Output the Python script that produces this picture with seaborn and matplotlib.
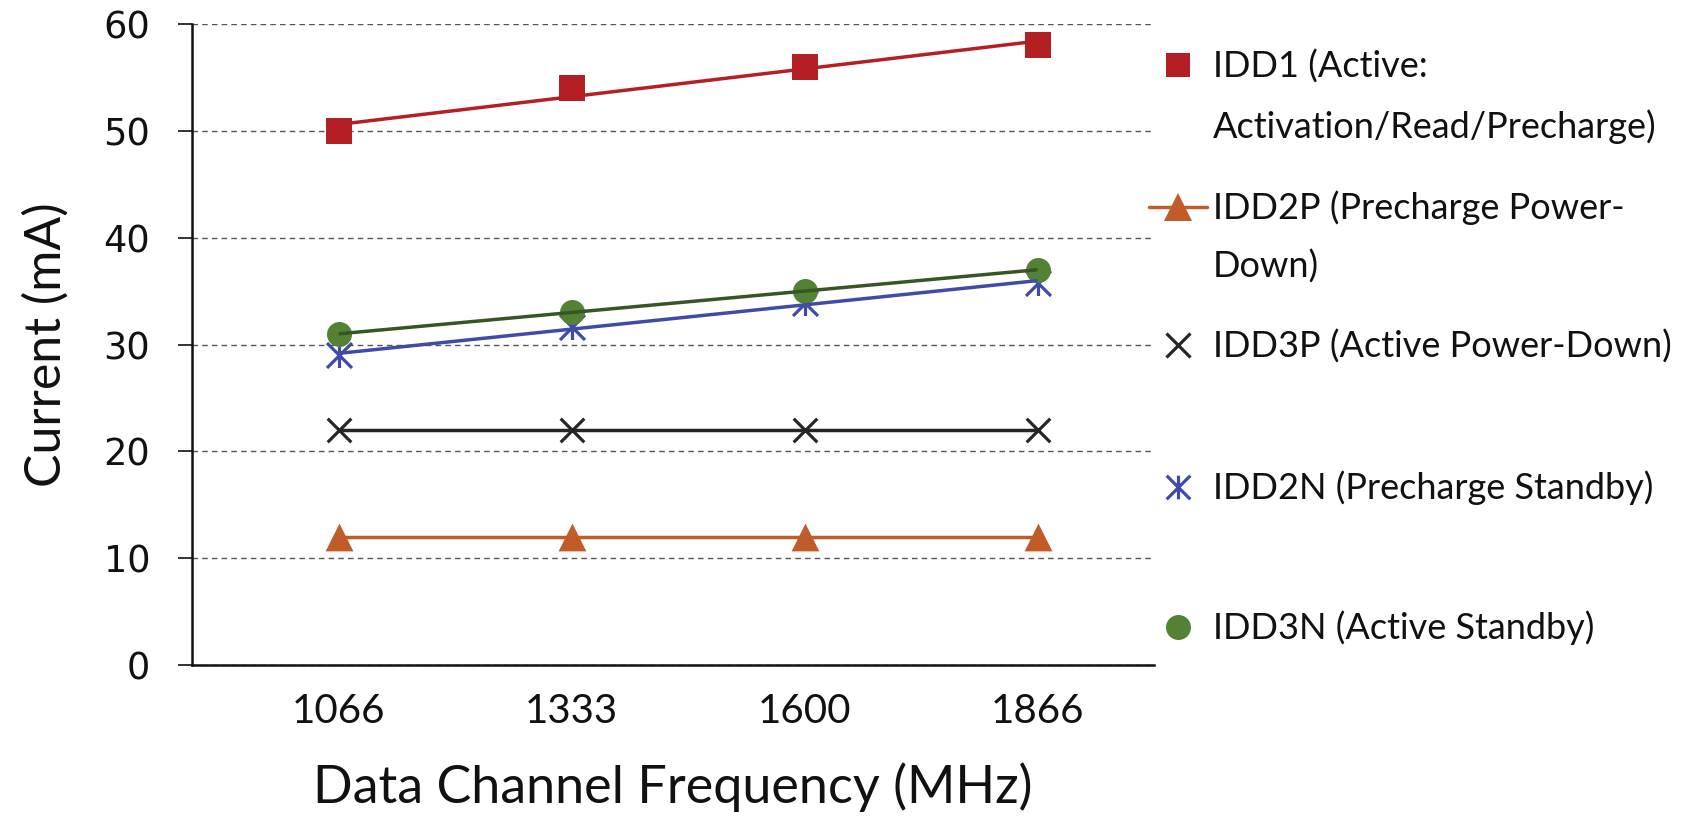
import numpy as np
import matplotlib
matplotlib.use("Agg")
import matplotlib.pyplot as plt
import seaborn as sns
from matplotlib.path import Path
from matplotlib.lines import Line2D

# ---------------- data ----------------
freqs = ["1066", "1333", "1600", "1866"]
idd1 = [50, 54, 56, 58]
idd2p = [12, 12, 12, 12]
idd3p = [22, 22, 22, 22]
idd2n = [29.0, 31.6, 33.9, 35.8]
idd3n = [31, 33, 35, 37]
series_labels = [
    "IDD1 (Active:\nActivation/Read/Precharge)",
    "IDD2P (Precharge Power-\nDown)",
    "IDD3P (Active Power-Down)",
    "IDD2N (Precharge Standby)",
    "IDD3N (Active Standby)",
]
y_ticks = [0, 10, 20, 30, 40, 50, 60]
x_title = "Data Channel Frequency (MHz)"
y_title = "Current (mA)"

# ---------------- style ----------------
sns.set_style("white")
plt.rcParams["font.family"] = ["Lato", "DejaVu Sans"]
TXT = "#111111"

W, H = 1693, 818
fig = plt.figure(figsize=(W / 100, H / 100), dpi=100)
ax = fig.add_axes([192 / W, 1 - 665 / H, (1154 - 192) / W, (665 - 24) / H])

star = Path([(0, -1), (0, 1), (-1, -1), (1, 1), (-1, 1), (1, -1)],
            [Path.MOVETO, Path.LINETO] * 3)

styles = [
    dict(y=idd1, marker="s", ms=18.5, color="#B41F24", line="#B41F24", mlw=0, lms=17),
    dict(y=idd2p, marker="^", ms=20, color="#C25B2A", line="#C25B2A", mlw=0, lms=20),
    dict(y=idd3p, marker="x", ms=17, color="#262626", line="#262626", mlw=2.3, lms=17),
    dict(y=idd2n, marker=star, ms=18, color="#3F4BA8", line="#3F4BA8", mlw=2.3, lms=17),
    dict(y=idd3n, marker="o", ms=18, color="#548235", line="#375623", mlw=0, lms=18),
]

x = np.arange(len(freqs))
for st in styles:
    sns.regplot(
        x=x, y=np.asarray(st["y"], dtype=float), ax=ax, ci=None, truncate=True,
        marker=st["marker"],
        scatter_kws=dict(s=st["ms"] ** 2, color=st["color"], alpha=1,
                         linewidths=st["mlw"], zorder=3),
        line_kws=dict(color=st["line"], lw=2.5, zorder=4, solid_capstyle="butt"),
    )

ax.set_xlim(-0.63, 3.5)
ax.set_ylim(0, 60)
ax.set_xticks(x)
ax.set_xticklabels(freqs)
ax.set_yticks(y_ticks)
ax.set_yticklabels([str(v) for v in y_ticks])
for lab in ax.get_yticklabels():
    lab.set_fontfamily(["DejaVu Sans"])
ax.tick_params(axis="y", length=10, width=1.2, direction="out", pad=20,
               labelsize=26.5, color="#111111", labelcolor=TXT, left=True)
ax.tick_params(axis="x", length=0, pad=20, labelsize=29, labelcolor=TXT)

ax.yaxis.grid(True, linestyle=(0, (4, 3)), color="#555555", lw=1.0)
ax.xaxis.grid(False)
ax.set_axisbelow(True)
for side in ["top", "right"]:
    ax.spines[side].set_visible(False)
for side in ["left", "bottom"]:
    ax.spines[side].set_color("#111111")
    ax.spines[side].set_linewidth(1.8)

ax.set_ylabel(y_title, fontsize=36, color=TXT)
ax.yaxis.set_label_coords(-0.127, 0.5)
ax.set_xlabel(x_title, fontsize=37.5, color=TXT)
ax.xaxis.set_label_coords(0.5, -0.152)

# ---------------- legend (one entry per block, positioned like the original) ----------------
leg_fs = 26
fs_px = leg_fs * 100 / 72
first_line_y = [67, 208, 347, 488, 628]
second_line_y = [127, 267, None, None, None]
marker_cx = 1178
text_left = 1213
for i, st in enumerate(styles):
    lines = series_labels[i].split("\n")
    if i == 1:
        h = Line2D([], [], marker=st["marker"], markersize=st["lms"], color=st["color"],
                   markeredgewidth=0, lw=2.5, linestyle="-")
        hl = 58 / fs_px
    else:
        h = Line2D([], [], marker=st["marker"], markersize=st["lms"], color=st["color"],
                   markerfacecolor=st["color"], markeredgecolor=st["color"],
                   markeredgewidth=st["mlw"], linestyle="None")
        hl = 1.0
    left = marker_cx - hl * fs_px / 2
    htp = (text_left - left - hl * fs_px) / fs_px
    fig.legend(handles=[h], labels=[lines[0]], loc="center left",
               bbox_to_anchor=(left / W, 1 - first_line_y[i] / H),
               bbox_transform=fig.transFigure, frameon=False, borderpad=0,
               borderaxespad=0, handlelength=hl, handletextpad=htp,
               fontsize=leg_fs, labelcolor=TXT)
    if len(lines) > 1:
        fig.text(text_left / W, 1 - second_line_y[i] / H, lines[1], ha="left",
                 va="center", fontsize=leg_fs, color=TXT)

fig.savefig("out.png", dpi=100)
